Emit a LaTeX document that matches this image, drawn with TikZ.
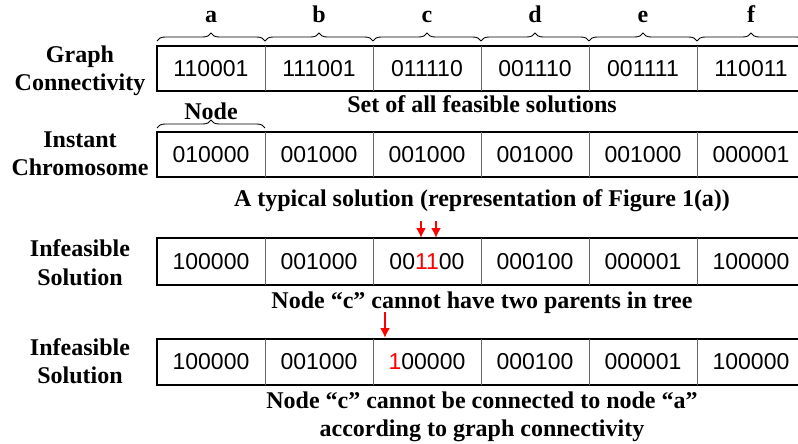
\documentclass[tikz,border=0pt]{standalone}
\usepackage{fontspec}
\setmainfont{Liberation Serif}
\newfontfamily\cellfont{Liberation Sans}
\usetikzlibrary{decorations.pathreplacing,arrows.meta}

\begin{document}
\begin{tikzpicture}[x=1pt,y=-1pt,%
% common options for the cells:
cell/.style = {font=\cellfont\fontsize{23}{23}\selectfont, inner sep=0},
% common options for the bold texts:
lab/.style = {font=\bfseries\fontsize{24}{28}\selectfont, anchor=base, inner sep=0},
rowframe/.style = {line width=1.5pt},
divider/.style = {draw=black!60, line width=0.9pt},
topbrace/.style = {decorate, decoration={brace, amplitude=8pt}, line width=0.9pt},
redarrow/.style = {draw=red, line width=2.4pt, -{Latex[length=10pt,width=10pt]}}]
\useasboundingbox (0,0) rectangle (798,444);
% node letters
\node[lab] (La) at (211,23) {a};
\node[lab] (Lb) at (319,23) {b};
\node[lab] (Lc) at (427,23) {c};
\node[lab] (Ld) at (535,23) {d};
\node[lab] (Le) at (643,23) {e};
\node[lab] (Lf) at (751,23) {f};
\draw[topbrace] (157,41) -- (265,41);
\draw[topbrace] (265,41) -- (373,41);
\draw[topbrace] (373,41) -- (481,41);
\draw[topbrace] (481,41) -- (589,41);
\draw[topbrace] (589,41) -- (697,41);
\draw[topbrace] (697,41) -- (805,41);
% row labels
\node[lab] (G0) at (80,63) {Graph};
\node[lab] (G00) at (80,91) {Connectivity};
\node[lab] (I0) at (80,147) {Instant};
\node[lab] (I00) at (80,175) {Chromosome};
\node[lab] (F0) at (80,256) {Infeasible};
\node[lab] (F00) at (80,285) {Solution};
\node[lab] (S0) at (80,355) {Infeasible};
\node[lab] (S00) at (80,383) {Solution};
% row frames
\draw[rowframe] (805,46) -- (157,46) -- (157,91) -- (805,91);
\draw[rowframe] (805,132) -- (157,132) -- (157,177) -- (805,177);
\draw[rowframe] (805,238) -- (157,238) -- (157,285) -- (805,285);
\draw[rowframe] (805,339) -- (157,339) -- (157,385) -- (805,385);
\draw[divider] (265,46) -- (265,91) (373,46) -- (373,91) (481,46) -- (481,91) (589,46) -- (589,91) (697,46) -- (697,91);
\draw[divider] (265,132) -- (265,177) (373,132) -- (373,177) (481,132) -- (481,177) (589,132) -- (589,177) (697,132) -- (697,177);
\draw[divider] (265,238) -- (265,285) (373,238) -- (373,285) (481,238) -- (481,285) (589,238) -- (589,285) (697,238) -- (697,285);
\draw[divider] (265,339) -- (265,385) (373,339) -- (373,385) (481,339) -- (481,385) (589,339) -- (589,385) (697,339) -- (697,385);
% cells
\node[cell] (G1) at (211,68.5) {110001};
\node[cell] (G2) at (319,68.5) {111001};
\node[cell] (G3) at (427,68.5) {011110};
\node[cell] (G4) at (535,68.5) {001110};
\node[cell] (G5) at (643,68.5) {001111};
\node[cell] (G6) at (751,68.5) {110011};
\node[cell] (I1) at (211,154.5) {010000};
\node[cell] (I2) at (319,154.5) {001000};
\node[cell] (I3) at (427,154.5) {001000};
\node[cell] (I4) at (535,154.5) {001000};
\node[cell] (I5) at (643,154.5) {001000};
\node[cell] (I6) at (751,154.5) {000001};
\node[cell] (F1) at (211,261.5) {100000};
\node[cell] (F2) at (319,261.5) {001000};
\node[cell] (F3) at (427,261.5) {00\textcolor{red}{11}00};
\node[cell] (F4) at (535,261.5) {000100};
\node[cell] (F5) at (643,261.5) {000001};
\node[cell] (F6) at (751,261.5) {100000};
\node[cell] (S1) at (211,362) {100000};
\node[cell] (S2) at (319,362) {001000};
\node[cell] (S3) at (427,362) {\textcolor{red}{1}00000};
\node[cell] (S4) at (535,362) {000100};
\node[cell] (S5) at (643,362) {000001};
\node[cell] (S6) at (751,362) {100000};
% node brace
\node[lab] (N0) at (211,119) {Node};
\draw[topbrace] (157,128) -- (265,128);
% captions
\node[lab] (T1) at (482,113) {Set of all feasible solutions};
\node[lab] (T2) at (482,206) {A typical solution (representation of Figure 1(a))};
\node[lab] (T3) at (482,308) {Node “c” cannot have two parents in tree};
\node[lab] (T4) at (482,408) {Node “c” cannot be connected to node “a”};
\node[lab] (T5) at (482,436) {according to graph connectivity};
% red arrows
\coordinate (A1) at (421,221);
\coordinate (A1e) at (421,238);
\coordinate (A2) at (436,221);
\coordinate (A2e) at (436,238);
\coordinate (A3) at (385,312);
\coordinate (A3e) at (385,338);
\draw[redarrow] (A1) -- (A1e);
\draw[redarrow] (A2) -- (A2e);
\draw[redarrow] (A3) -- (A3e);
\end{tikzpicture}
\end{document}
